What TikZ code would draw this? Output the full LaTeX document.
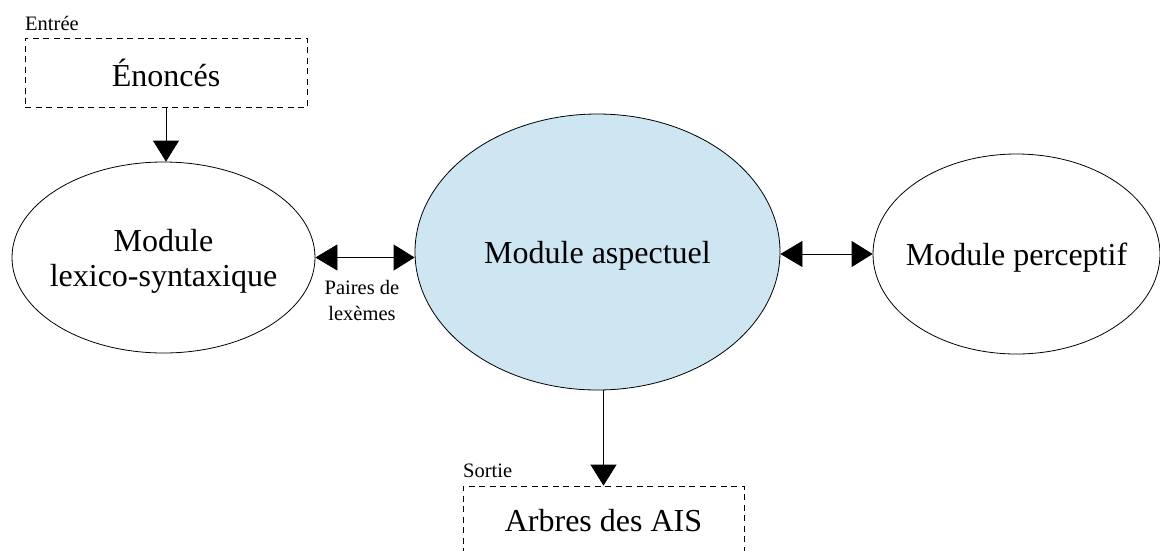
\documentclass[tikz,border=0pt]{standalone}
\usepackage{fontspec}
\setmainfont{Liberation Serif}
\usetikzlibrary{arrows.meta,shapes.geometric}
\definecolor{aspblue}{RGB}{206,229,242}
\tikzset{
  big/.style={font=\fontsize{32}{35}\selectfont},
  small/.style={font=\fontsize{20.5}{26}\selectfont},
  modell/.style={draw=black, line width=0.8pt, ellipse, inner sep=0pt},
  inlabel/.style={label={[big, align=center, inner sep=0pt, yshift=-3.5pt]center:#1}},
  iobox/.style={draw=black, line width=0.8pt, dash pattern=on 6pt off 4.5pt, rectangle, inner sep=0pt, big},
  arr/.style={line width=0.8pt, -{Triangle[length=21pt,width=26pt]}},
  darr/.style={line width=0.8pt, {Triangle[length=22pt,width=26pt]}-{Triangle[length=21pt,width=26pt]}}
}
\begin{document}
\begin{tikzpicture}[x=1pt,y=-1pt]
\clip (0,0) rectangle (1160,550);
\fill[white] (0,0) rectangle (1160,550);

\node[iobox, minimum width=282pt, minimum height=69pt] (inbox) at (166,72.5) {Énoncés};
\node[small, anchor=base west, inner sep=0pt] (entree) at (25,30) {Entrée};

\node[modell, minimum width=303pt, minimum height=191pt, inlabel={Module\\lexico-syntaxique}] (lex) at (163.5,257.5) {};
\node[modell, fill=aspblue, minimum width=365pt, minimum height=276pt, inlabel={Module aspectuel}] (asp) at (597.5,252) {};
\node[modell, minimum width=287pt, minimum height=200pt, inlabel={Module perceptif}] (perc) at (1016.5,254) {};

\node[iobox, minimum width=281pt, minimum height=69pt] (outbox) at (603.5,520.5) {Arbres des AIS};
\node[small, anchor=base west, inner sep=0pt] (sortie) at (463,477) {Sortie};

\node[small, align=center, inner sep=0pt] (paires) at (362,300) {Paires de\\lexèmes};

\draw[arr] (inbox.south) -- (inbox.south |- lex.north);
\draw[darr] (lex.east) -- (lex.east -| asp.west);
\draw[darr] (asp.east |- perc.west) -- (perc.west);
\draw[arr] (asp.south -| outbox.north) -- (outbox.north);
\end{tikzpicture}
\end{document}
